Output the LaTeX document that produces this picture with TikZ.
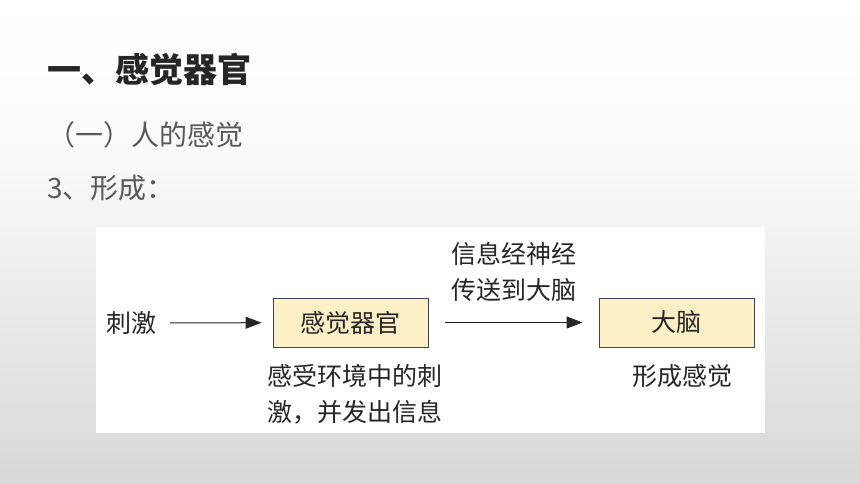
\documentclass[tikz,border=0pt]{standalone}
\usepackage{fontspec}
\setmainfont{Noto Sans CJK SC}
\usetikzlibrary{arrows.meta}
\definecolor{boxfill}{HTML}{FDF0C6}
\definecolor{boxline}{HTML}{3F4459}
\definecolor{ink}{HTML}{262626}
\definecolor{subink}{HTML}{595959}
\definecolor{bgbottom}{HTML}{D8D8D8}
\definecolor{bgmid}{HTML}{FAFAFA}
\pgfdeclareverticalshading{slidebg}{100bp}{color(0bp)=(bgbottom); color(25bp)=(bgbottom);
  color(59bp)=(bgmid); color(75bp)=(white); color(100bp)=(white)}
\begin{document}
\begin{tikzpicture}[x=1pt,y=-1pt,
        heading/.style={anchor=west,inner sep=0pt,text=ink,font=\bfseries\fontsize{34}{34}\selectfont},
        subhead/.style={anchor=west,inner sep=0pt,text=subink,font=\fontsize{28}{28}\selectfont},
        organ/.style={draw=boxline,fill=boxfill,line width=0.9pt,minimum width=155pt,minimum height=49pt,
          inner sep=0pt,text=ink,font=\fontsize{25}{25}\selectfont},
        note/.style={inner sep=0pt,align=center,text=ink,font=\fontsize{25}{36}\selectfont},
        flow/.style={draw=ink,line width=1pt,-{Triangle[length=16pt,width=12pt]}}]
    \useasboundingbox (0,0) rectangle (860,484);
    \shade[shading=slidebg] (0,0) rectangle (860,484);
    \fill[white] (96,227) rectangle (765,433);
    % headings
    \node[heading] (title) at (47,69) {一、感觉器官};
    \node[subhead] (part) at (47,135) {（一）人的感觉};
    \node[subhead] (step) at (47,188) {3、形成：};
    % chain
    \node[note] (stim) at (131,323) {刺激};
    \node[organ] (sense) at (350.5,322.5) {感觉器官};
    \node[organ] (brain) at (676.5,322.5) {大脑};
    \node[note] (route) at (514,272) {信息经神经\\传送到大脑};
    \node[note] (detect) at (354.5,394) {感受环境中的刺\\激，并发出信息};
    \node[note] (feel) at (682,376) {形成感觉};
    \draw[flow,shorten <=14pt,shorten >=11pt] (stim) -- (sense);
    \draw[flow,shorten <=17pt,shorten >=16pt] (sense) -- (brain);
\end{tikzpicture}
\end{document}
